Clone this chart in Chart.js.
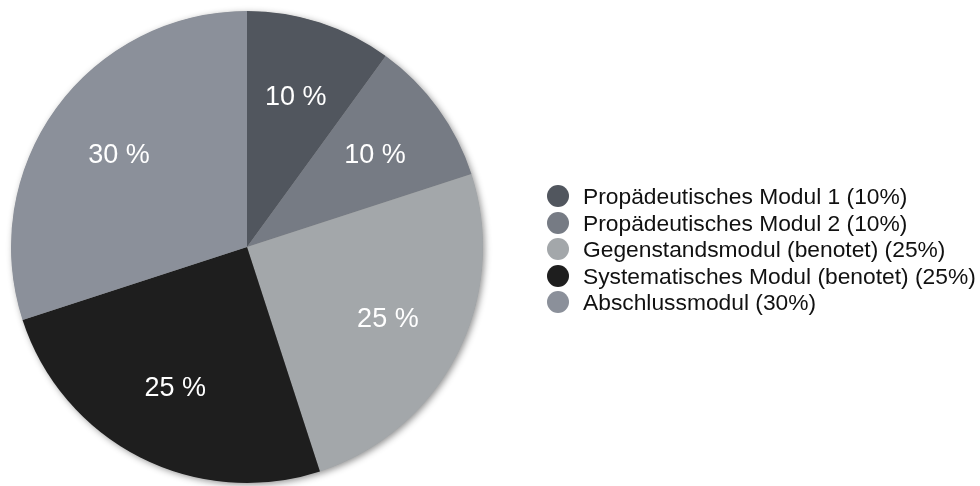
<!DOCTYPE html>
<html>
<head>
<meta charset="utf-8">
<script src="https://cdn.jsdelivr.net/npm/chart.js@4"></script>
<style>
  html, body { margin: 0; padding: 0; background: #fff; }
  .wrap { position: relative; width: 980px; height: 486px; }
  #pie { position: absolute; left: 0; top: 0; }
  .legend {
    position: absolute; left: 547px; top: 183px;
    list-style: none; margin: 0; padding: 0;
    font-family: "Liberation Sans", Arial, Helvetica, sans-serif;
    font-size: 22.8px; color: #111;
  }
  .legend li { height: 26.5px; line-height: 26.5px; white-space: nowrap; display: flex; align-items: center; }
  .legend .dot { width: 22px; height: 22px; border-radius: 50%; margin-right: 14px; flex: none; }
</style>
</head>
<body>
<div class="wrap">
  <canvas id="pie" width="980" height="486"></canvas>
  <ul class="legend" id="legend"></ul>
</div>
<script>
// Daten
const labels = [
  'Propädeutisches Modul 1 (10%)',
  'Propädeutisches Modul 2 (10%)',
  'Gegenstandsmodul (benotet) (25%)',
  'Systematisches Modul (benotet) (25%)',
  'Abschlussmodul (30%)'
];
const shares = [10, 10, 25, 25, 30];
const colors = ['#51565e', '#767b84', '#a3a7aa', '#1e1e1e', '#8b909a'];

// Legende als HTML
const ul = document.getElementById('legend');
labels.forEach((txt, i) => {
  const li = document.createElement('li');
  const dot = document.createElement('span');
  dot.className = 'dot';
  dot.style.background = colors[i];
  li.appendChild(dot);
  li.appendChild(document.createTextNode(txt));
  ul.appendChild(li);
});

// Schatten unter dem ganzen Kreis
const pieShadow = {
  id: 'pieShadow',
  beforeDatasetsDraw(chart) {
    const arc = chart.getDatasetMeta(0).data[0];
    if (!arc) return;
    const ctx = chart.ctx;
    ctx.save();
    ctx.shadowColor = 'rgba(0,0,0,0.45)';
    ctx.shadowBlur = 7;
    ctx.shadowOffsetX = 2;
    ctx.shadowOffsetY = 2;
    ctx.fillStyle = '#888';
    ctx.beginPath();
    ctx.arc(arc.x, arc.y, arc.outerRadius - 0.5, 0, Math.PI * 2);
    ctx.fill();
    ctx.restore();
  }
};

// Prozentwerte in den Segmenten
const sliceLabels = {
  id: 'sliceLabels',
  afterDatasetsDraw(chart) {
    const ctx = chart.ctx;
    const meta = chart.getDatasetMeta(0);
    ctx.save();
    ctx.fillStyle = '#fff';
    ctx.font = '27px "Liberation Sans", Arial, Helvetica, sans-serif';
    ctx.textAlign = 'center';
    ctx.textBaseline = 'middle';
    meta.data.forEach((arc, i) => {
      const p = arc.getProps(['x', 'y', 'startAngle', 'endAngle', 'outerRadius']);
      const mid = (p.startAngle + p.endAngle) / 2;
      const r = p.outerRadius * 0.67;
      ctx.fillText(shares[i] + ' %', p.x + Math.cos(mid) * r, p.y + Math.sin(mid) * r + 1);
    });
    ctx.restore();
  }
};

new Chart(document.getElementById('pie'), {
  type: 'pie',
  data: {
    labels: labels,
    datasets: [{
      data: shares,
      backgroundColor: colors,
      borderWidth: 0
    }]
  },
  options: {
    responsive: false,
    animation: false,
    layout: { padding: { left: 11, right: 497, top: 11, bottom: 3 } },
    plugins: {
      legend: { display: false },
      tooltip: { enabled: false }
    }
  },
  plugins: [pieShadow, sliceLabels]
});
</script>
</body>
</html>
